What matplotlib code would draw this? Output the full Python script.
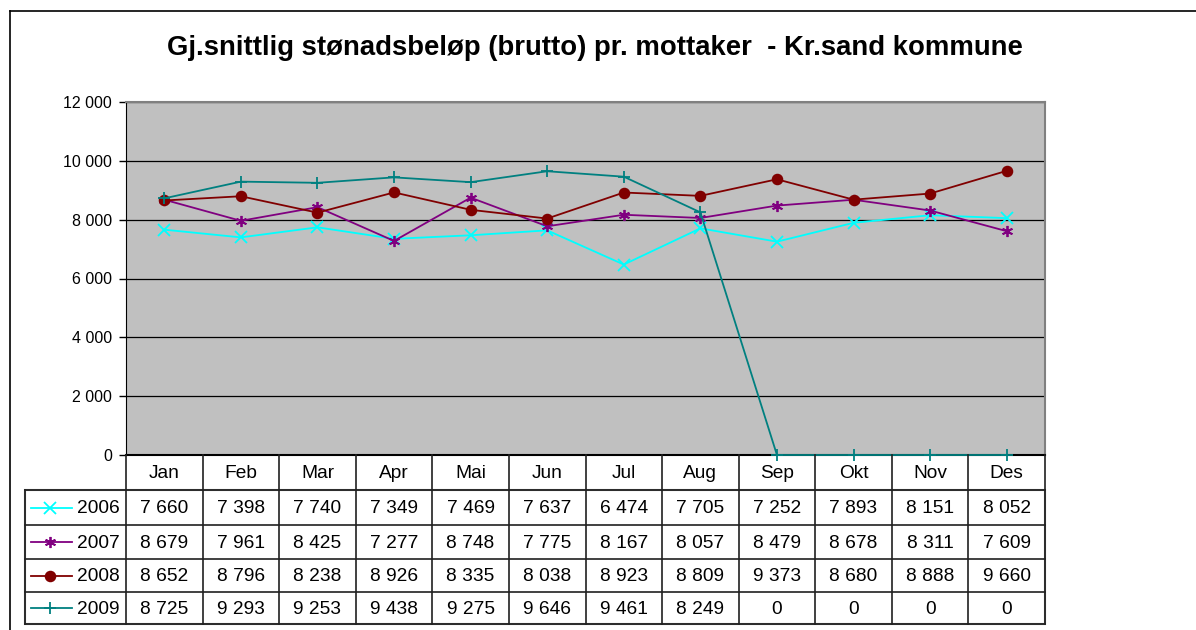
import matplotlib
matplotlib.use("Agg")
import matplotlib.pyplot as plt
from matplotlib.lines import Line2D
from matplotlib.patches import Rectangle

months = ["Jan", "Feb", "Mar", "Apr", "Mai", "Jun", "Jul", "Aug", "Sep", "Okt", "Nov", "Des"]
years = ["2006", "2007", "2008", "2009"]
v2006 = [7660, 7398, 7740, 7349, 7469, 7637, 6474, 7705, 7252, 7893, 8151, 8052]
v2007 = [8679, 7961, 8425, 7277, 8748, 7775, 8167, 8057, 8479, 8678, 8311, 7609]
v2008 = [8652, 8796, 8238, 8926, 8335, 8038, 8923, 8809, 9373, 8680, 8888, 9660]
v2009 = [8725, 9293, 9253, 9438, 9275, 9646, 9461, 8249, 0, 0, 0, 0]
series = [v2006, v2007, v2008, v2009]
yticks = [0, 2000, 4000, 6000, 8000, 10000, 12000]
title = "Gj.snittlig stønadsbeløp (brutto) pr. mottaker  - Kr.sand kommune"

colors = ["#00FFFF", "#800080", "#800000", "#008080"]
markers = ["x", (6, 2, 0), "o", "+"]
msizes = [8, 8, 7, 9]

plt.rcParams["font.family"] = ["Liberation Sans", "DejaVu Sans"]

W, H = 1196, 630
fig = plt.figure(figsize=(W / 100, H / 100), dpi=100)

def fx(px):
    return px / W

def fy(py):
    return 1 - py / H

# outer frame lines
fig.add_artist(Line2D([fx(10), fx(10)], [fy(11), fy(630)], color="black", lw=1.2))
fig.add_artist(Line2D([fx(10), fx(1196)], [fy(11), fy(11)], color="black", lw=1.2))

L, R, T, B = 126, 1045, 102, 455
ax = fig.add_axes([fx(L), fy(B), fx(R - L), (B - T) / H])
ax.set_facecolor("#C0C0C0")
ax.set_xlim(-0.5, 11.5)
ax.set_ylim(0, 12000)
ax.set_yticks(yticks)
ax.set_yticklabels([f"{v:,}".replace(",", " ") for v in yticks], fontsize=11.5)
ax.set_xticks([])
ax.grid(axis="y", color="black", lw=0.9)
ax.set_axisbelow(True)
for s in ["top", "right"]:
    ax.spines[s].set_color("#808080")
    ax.spines[s].set_linewidth(1.5)
ax.spines["left"].set_color("black")
ax.spines["bottom"].set_color("black")
ax.spines["bottom"].set_linewidth(1.5)
ax.tick_params(axis="y", length=5, width=1, color="black", pad=5)

x = list(range(len(months)))
for vals, c, m, ms in zip(series, colors, markers, msizes):
    ax.plot(x, vals, color=c, marker=m, markersize=ms, lw=1.3,
            markeredgewidth=1.3, clip_on=False, zorder=3)

fig.text(fx(595), fy(48), title, ha="center", va="center",
         fontsize=19.8, fontweight="bold")

# data table
tx = fig.add_axes([0, 0, 1, 1], facecolor="none")
tx.set_xlim(0, W)
tx.set_ylim(H, 0)
tx.axis("off")
colw = (R - L) / 12
rows = [490, 525, 559, 592, 624]
lc = "#202020"
for i in range(13):
    xx = L + i * colw
    tx.plot([xx, xx], [B, rows[-1]], color=lc, lw=1.2)
for i, mname in enumerate(months):
    tx.text(L + (i + 0.5) * colw, (B + rows[0]) / 2 + 1, mname,
            ha="center", va="center", fontsize=13.8)
for yy in rows:
    tx.plot([25, R], [yy, yy], color=lc, lw=1.2)
tx.plot([25, 25], [rows[0], rows[-1]], color=lc, lw=1.2)
tx.add_patch(Rectangle((25, rows[0]), R - 25, rows[-1] - rows[0],
                       fill=False, ec="#707070", lw=1.5))
for r, (yr, vals, c, m, ms) in enumerate(zip(years, series, colors, markers, msizes)):
    yc = (rows[r] + rows[r + 1]) / 2
    tx.plot([31, 72], [yc, yc], color=c, lw=1.3)
    tx.plot([50], [yc], color=c, marker=m, markersize=ms, markeredgewidth=1.3)
    tx.text(77, yc + 1, yr, ha="left", va="center", fontsize=13.8)
    for i, v in enumerate(vals):
        tx.text(L + (i + 0.5) * colw, yc + 1, f"{v:,}".replace(",", " "),
                ha="center", va="center", fontsize=13.8)

fig.savefig("out.png", dpi=100)
